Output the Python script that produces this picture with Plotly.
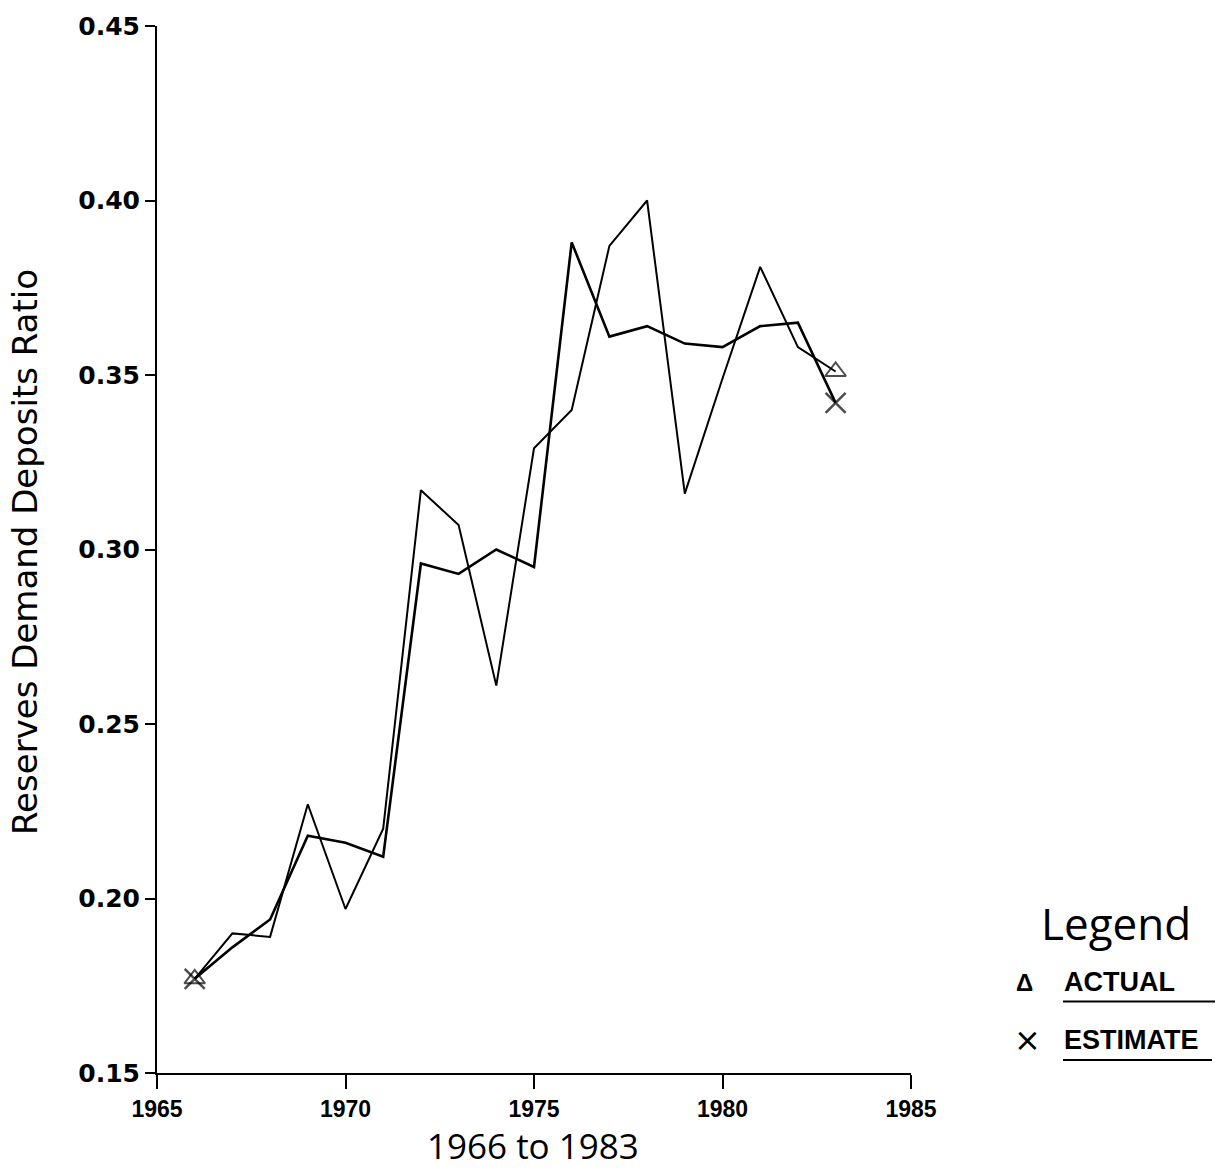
import plotly.graph_objects as go

years = list(range(1966, 1984))
actual = [0.177, 0.190, 0.189, 0.227, 0.197, 0.220, 0.317, 0.307, 0.261,
          0.329, 0.340, 0.387, 0.400, 0.316, 0.349, 0.381, 0.358, 0.351]
estimate = [0.177, 0.186, 0.194, 0.218, 0.216, 0.212, 0.296, 0.293, 0.300,
            0.295, 0.388, 0.361, 0.364, 0.359, 0.358, 0.364, 0.365, 0.342]
x_ticks = [1965, 1970, 1975, 1980, 1985]
y_ticks = [0.15, 0.20, 0.25, 0.30, 0.35, 0.40, 0.45]

FONT = "Liberation Sans"

fig = go.Figure()
n = len(years)
fig.add_trace(go.Scatter(
    x=years, y=actual, mode="lines+markers", name="ACTUAL",
    line=dict(color="black", width=2),
    marker=dict(symbol="triangle-up-open", size=[18] + [0] * (n - 2) + [18],
                color="black", line=dict(width=2, color="black")),
    showlegend=False))
fig.add_trace(go.Scatter(
    x=years, y=estimate, mode="lines+markers", name="ESTIMATE",
    line=dict(color="black", width=2.6),
    marker=dict(symbol="x-thin-open", size=[20] + [0] * (n - 2) + [20],
                color="black", line=dict(width=2.5, color="black")),
    showlegend=False))

fig.update_layout(
    width=1225, height=1170,
    margin=dict(l=157, r=314, t=20, b=97),
    paper_bgcolor="white", plot_bgcolor="white",
    font=dict(family=FONT, color="black"),
    xaxis=dict(range=[1965, 1985], tickvals=x_ticks, ticktext=[str(v) for v in x_ticks],
               showgrid=False, zeroline=False, showline=True, linecolor="black", linewidth=2,
               ticks="outside", ticklen=14, tickwidth=2, tickcolor="black",
               tickfont=dict(family=FONT, size=23, color="black", weight="bold")),
    yaxis=dict(range=[0.15, 0.45], tickvals=y_ticks, ticktext=[f"{v:.2f}" for v in y_ticks],
               showgrid=False, zeroline=False, showline=True, linecolor="black", linewidth=2,
               ticks="outside", ticklen=10, tickwidth=2, tickcolor="black",
               tickfont=dict(family="DejaVu Sans", size=25, color="black", weight="bold")),
)

def px(xp):
    return (xp - 157) / 754

def py(yp):
    return (1073 - yp) / 1053

fig.add_annotation(text="Reserves Demand Deposits Ratio", xref="paper", yref="paper",
                   x=px(25), y=py(549), textangle=-90,
                   showarrow=False, xanchor="center", yanchor="middle",
                   font=dict(family="DejaVu Sans", size=34, color="black"))
fig.add_annotation(text="1966 to 1983", xref="paper", yref="paper",
                   x=px(533), y=py(1146),
                   showarrow=False, xanchor="center", yanchor="middle",
                   font=dict(family="Open Sans", size=35, color="black"))

fig.add_annotation(text="Legend", xref="paper", yref="paper", x=px(1116), y=py(922),
                   showarrow=False, xanchor="center", yanchor="middle",
                   font=dict(family="Open Sans", size=44, color="black"))
fig.add_annotation(text="Δ", xref="paper", yref="paper", x=px(1024), y=py(982),
                   showarrow=False, xanchor="center", yanchor="middle",
                   font=dict(family=FONT, size=24, color="black", weight="bold"))
fig.add_annotation(text="ACTUAL", xref="paper", yref="paper", x=px(1062), y=py(981),
                   showarrow=False, xanchor="left", yanchor="middle",
                   font=dict(family=FONT, size=27, color="black", weight="bold"))
fig.add_annotation(text="×", xref="paper", yref="paper", x=px(1027), y=py(1040),
                   showarrow=False, xanchor="center", yanchor="middle",
                   font=dict(family="DejaVu Sans", size=32, color="black"))
fig.add_annotation(text="ESTIMATE", xref="paper", yref="paper", x=px(1062), y=py(1040),
                   showarrow=False, xanchor="left", yanchor="middle",
                   font=dict(family=FONT, size=27, color="black", weight="bold"))
fig.add_shape(type="line", xref="paper", yref="paper", x0=px(1063), x1=px(1215),
              y0=py(1001), y1=py(1001), line=dict(color="black", width=2))
fig.add_shape(type="line", xref="paper", yref="paper", x0=px(1063), x1=px(1212),
              y0=py(1060), y1=py(1060), line=dict(color="black", width=2))

fig.write_html("out.html")
